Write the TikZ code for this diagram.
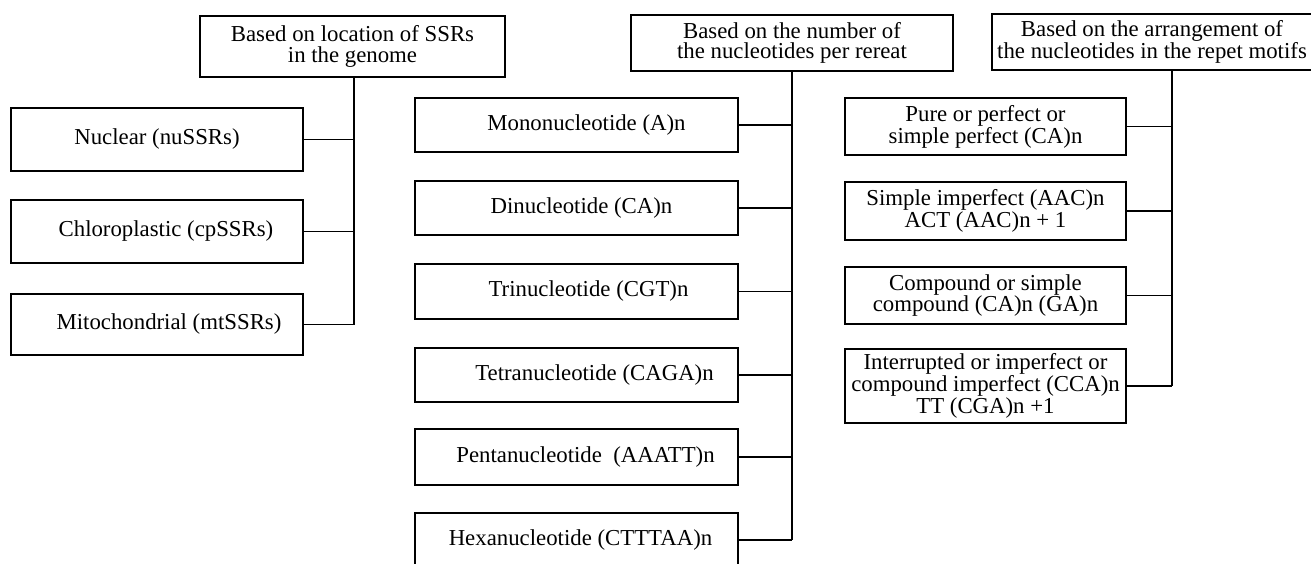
\documentclass[tikz,border=0pt]{standalone}
\usepackage{fontspec}
\setmainfont{Liberation Serif}
\begin{document}
\begin{tikzpicture}[x=1pt,y=-1pt,
  box/.style={draw, line width=1.5pt, inner sep=0pt, align=center,
    font=\fontsize{22.8}{20.5}\selectfont},
  lbox/.style={box, minimum width=292pt},
  mbox/.style={box, minimum width=323pt},
  rbox/.style={box, minimum width=281pt},
  link/.style={line width=1.5pt},
  trunk/.style={line width=1.8pt}]
\useasboundingbox (0,0) rectangle (1311,564);
% headers
\node[box, minimum width=305pt, minimum height=61pt] (h1) at (352.5,46.5) {Based on location of SSRs\\in the genome};
\node[box, minimum width=322pt, minimum height=56pt] (h2) at (792,43) {Based on the number of\\the nucleotides per rereat};
\node[box, minimum width=320pt, minimum height=56pt] (h3) at (1152,42) {Based on the arrangement of\\the nucleotides in the repet motifs};
% left column
\node[lbox, minimum height=63pt] (n1) at (157,139.5) {Nuclear (nuSSRs)};
\node[lbox, minimum height=63pt] (n2) at (157,231.5) {\hspace*{18pt}Chloroplastic (cpSSRs)};
\node[lbox, minimum height=61pt] (n3) at (157,324.5) {\hspace*{24pt}Mitochondrial (mtSSRs)};
% middle column
\node[mbox, minimum height=54pt] (m1) at (576.5,125) {\hspace*{20pt}Mononucleotide (A)n};
\node[mbox, minimum height=54pt] (m2) at (576.5,208) {\hspace*{10pt}Dinucleotide (CA)n};
\node[mbox, minimum height=55pt] (m3) at (576.5,291.5) {\hspace*{24pt}Trinucleotide (CGT)n};
\node[mbox, minimum height=54pt] (m4) at (576.5,375) {\hspace*{36pt}Tetranucleotide (CAGA)n};
\node[mbox, minimum height=56pt] (m5) at (576.5,457) {\hspace*{18pt}Pentanucleotide~ (AAATT)n};
\node[mbox, minimum height=54pt] (m6) at (576.5,540) {\hspace*{8pt}Hexanucleotide (CTTTAA)n};
% right column
\node[rbox, minimum height=57pt] (r1) at (985.5,126.5) {Pure or perfect or\\simple perfect (CA)n};
\node[rbox, minimum height=58pt] (r2) at (985.5,211) {Simple imperfect (AAC)n\\ACT (AAC)n + 1};
\node[rbox, minimum height=57pt] (r3) at (985.5,295.5) {Compound or simple\\compound (CA)n (GA)n};
\node[rbox, minimum height=74pt] (r4) at (985.5,386) {Interrupted or imperfect or\\compound imperfect (CCA)n\\TT (CGA)n +1};
% trunks
\coordinate (v1) at (354,77);
\coordinate (v2) at (792,71);
\coordinate (v3) at (1172,70);
\draw[trunk] (v1) -- (v1 |- n3.east);
\draw[trunk] (v2) -- (v2 |- m6.east);
\draw[trunk] (v3) -- (v3 |- r4.east);
% branches
\foreach \n in {n1,n2,n3} \draw[link] (\n.east) -- (\n.east -| v1);
\foreach \n in {m1,m2,m3,m4,m5,m6} \draw[link] (\n.east) -- (\n.east -| v2);
\foreach \n in {r1,r2,r3,r4} \draw[link] (\n.east) -- (\n.east -| v3);
\end{tikzpicture}
\end{document}
